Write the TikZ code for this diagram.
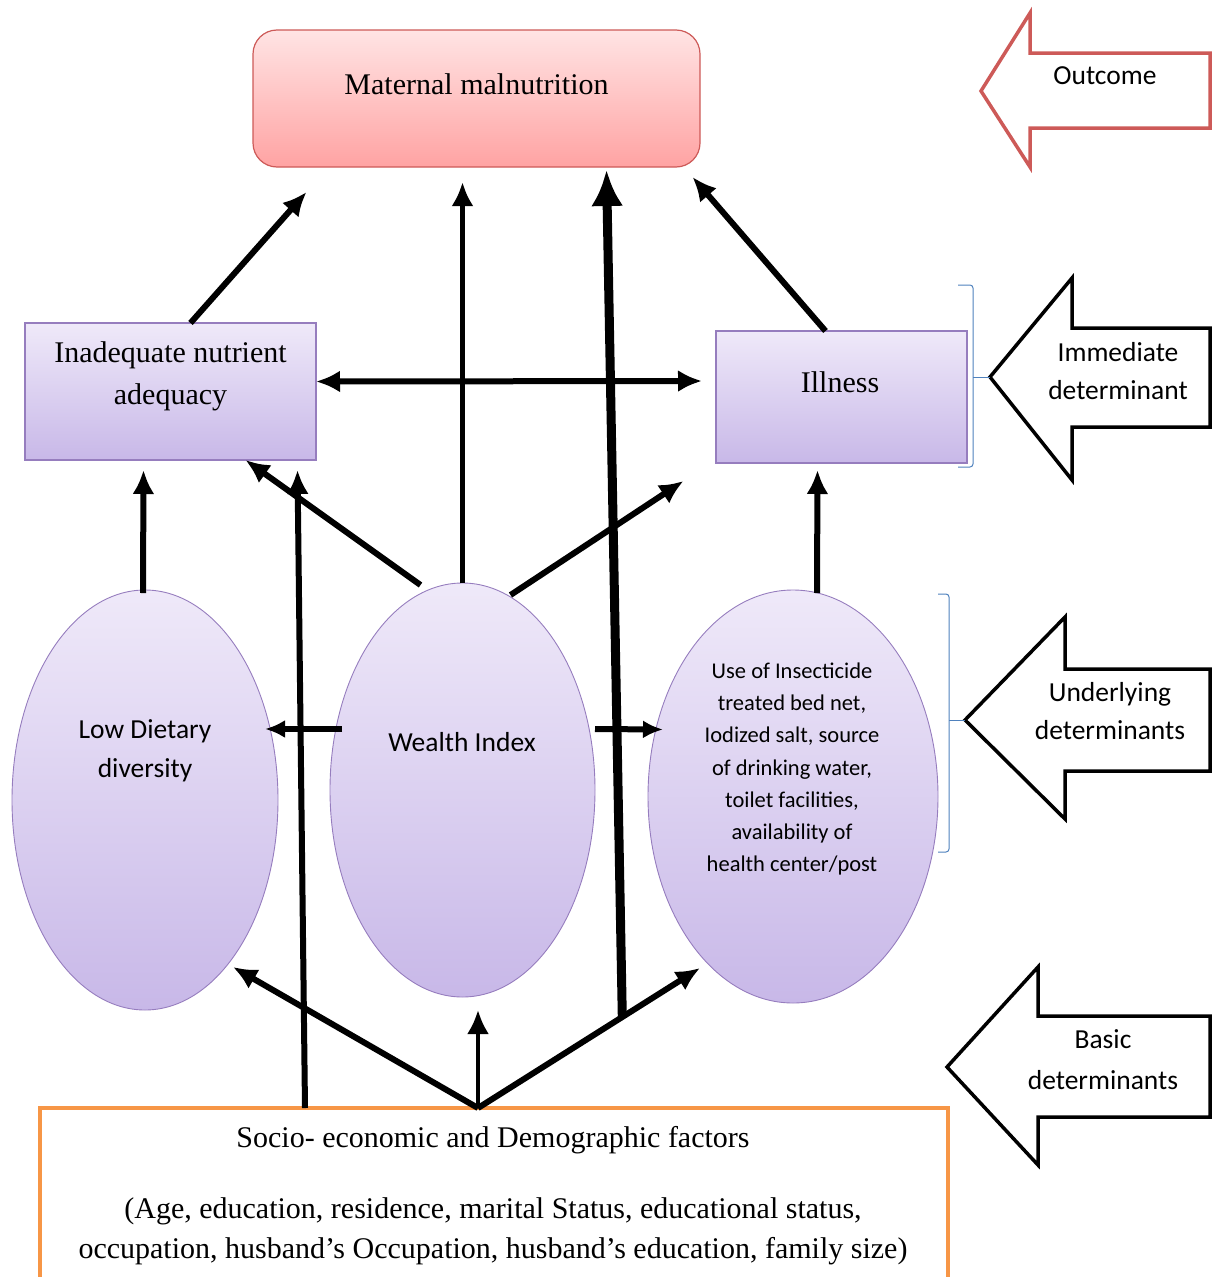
\documentclass[tikz,border=0pt]{standalone}
\usepackage{fontspec}
\setmainfont{Liberation Serif}
\newfontfamily\calibri{Carlito}
\usetikzlibrary{shapes.geometric,arrows.meta,calc}

\definecolor{redline}{RGB}{205,90,88}
\definecolor{pinktop}{RGB}{255,228,228}
\definecolor{pinkbot}{RGB}{255,163,163}
\definecolor{lilatop}{RGB}{239,233,249}
\definecolor{lilabot}{RGB}{200,184,232}
\definecolor{lilaline}{RGB}{150,125,190}
\definecolor{orangeline}{RGB}{247,150,70}
\definecolor{bracketblue}{RGB}{79,129,189}

\begin{document}
\begin{tikzpicture}[x=1pt, y=-1pt, >={Latex[length=24pt,width=22pt]},
    every node/.style={inner sep=0pt, outer sep=0pt},
    outcomebox/.style={draw=redline, line width=1.2pt, rounded corners=24pt,
        top color=pinktop, bottom color=pinkbot},
    detbox/.style={draw=lilaline, line width=1.2pt, top color=lilatop, bottom color=lilabot},
    detellipse/.style={ellipse, draw=lilaline, line width=0.9pt, top color=lilatop, bottom color=lilabot},
    timestext/.style={font=\fontsize{30}{42}\selectfont, align=center},
    calibritext/.style={font=\calibri\fontsize{27.5}{39}\selectfont, align=center},
    arr/.style={->, line width=6pt},
    blockarrow/.style={line width=3.5pt, line join=miter},
    bracket/.style={draw=bracketblue, line width=1pt, rounded corners=3pt}
  ]
  \useasboundingbox (0,0) rectangle (1212,1277);

  % outcome
  \node[outcomebox, minimum width=447pt, minimum height=137pt] (mm) at (476.5,98.5) {};
  \node[timestext] (mm-t) at (476.5,84) {Maternal malnutrition};

  % immediate determinants
  \node[detbox, minimum width=291pt, minimum height=137pt] (inad) at (170.5,391.5) {};
  \node[timestext] (inad-t) at (170.5,376) {Inadequate nutrient\\adequacy};
  \node[detbox, minimum width=251pt, minimum height=132pt] (ill) at (841.5,397) {};
  \node[timestext] (ill-t) at (840,382) {Illness};

  % underlying determinants
  \node[detellipse, minimum width=266pt, minimum height=420pt] (ldd) at (145,800) {};
  \node[calibritext] (ldd-t) at (145,751) {Low Dietary\\diversity};
  \node[detellipse, minimum width=265pt, minimum height=414pt] (wi) at (462.5,790) {};
  \node[calibritext] (wi-t) at (462,742) {Wealth Index};
  \node[detellipse, minimum width=290pt, minimum height=413pt] (ins) at (793,796.5) {};
  \node[calibritext, font=\calibri\fontsize{22.5}{32.3}\selectfont] (ins-t) at (792,769)
    {Use of Insecticide\\treated bed net,\\Iodized salt, source\\of drinking water,\\toilet facilities,\\availability of\\health center/post};

  % basic determinants
  \node[draw=orangeline, line width=4pt, fill=white, minimum width=908pt, minimum height=200pt] (socio) at (494,1208) {};
  \node[timestext] (socio-t) at (493,1140) {Socio- economic and Demographic factors};
  \node[timestext, font=\fontsize{30}{40}\selectfont] (socio-d) at (493,1231)
    {(Age, education, residence, marital Status, educational status,\\occupation, husband’s Occupation, husband’s education, family size)};

  % arrows
  \coordinate (hub) at ($(socio.north)+(-16,0)$);
  \coordinate (ins-in) at ($(ins.south)+(-93,-35)$);
  \coordinate (split) at ($(hub)!0.65!(ins-in)$);

  \draw[arr] ($(inad.north)+(20,0)$) -- ($(mm.south)+(-170,25)$);
  \draw[arr, line width=5pt] (wi.north) -- ($(mm.south)+(-14,15)$);
  \draw[arr, line width=9pt, >={Latex[length=36pt,width=32pt]}] (split) -- ($(mm.south)+(130,3)$);
  \draw[arr] ($(ill.north)+(-16,0)$) -- ($(mm.south)+(216,10)$);
  \draw[<->, line width=6pt] ($(inad.east)+(0,-10)$) -- ($(ill.west)+(-14,-16)$);

  \draw[arr] ($(ldd.north)+(-2,3)$) -- ($(inad.south)+(-27,10)$);
  \draw[arr] ($(wi.north)+(-42,2)$) -- ($(inad.south)+(75,0)$);
  \draw[arr] ($(wi.north)+(48,12)$) -- ($(ill.south)+(-158,18)$);
  \draw[arr] ($(ins.north)+(24,3)$) -- ($(ill.south)+(-24,7)$);
  \draw[arr] ($(socio.north)+(-189,0)$) -- ($(inad.south)+(127,10)$);

  \draw[arr, >={Latex[length=20pt,width=18pt]}] ($(wi.west)+(12,-61)$) -- ($(ldd.east)+(-13,-71)$);
  \draw[arr, >={Latex[length=20pt,width=18pt]}] ($(wi.east)+(0,-61)$) -- ($(ins.west)+(15,-67)$);

  \draw[arr] (hub) -- ($(ldd.south)+(88,-43)$);
  \draw[arr, line width=4pt] (hub) -- ($(wi.south)+(15.5,13)$);
  \draw[arr] (hub) -- (ins-in);

  % level arrows on the right
  \draw[blockarrow, draw=redline] (1210,53) -- (1030,53) -- (1030,13) -- (981,91)
    -- (1030,167) -- (1030,128) -- (1210,128) -- cycle;
  \node[calibritext] (outcome-t) at (1105,76) {Outcome};

  \draw[blockarrow] (1210,328) -- (1072,328) -- (1072,278) -- (990,377)
    -- (1072,480) -- (1072,427) -- (1210,427) -- cycle;
  \node[calibritext, font=\calibri\fontsize{27.5}{38}\selectfont] (immediate-t) at (1118,371) {Immediate\\determinant};

  \draw[blockarrow] (1210,669) -- (1065,669) -- (1065,617) -- (965,720)
    -- (1065,819) -- (1065,771) -- (1210,771) -- cycle;
  \node[calibritext, font=\calibri\fontsize{27.5}{38}\selectfont] (underlying-t) at (1110,711) {Underlying\\determinants};

  \draw[blockarrow] (1210,1016) -- (1038,1016) -- (1038,967) -- (947,1067)
    -- (1038,1165) -- (1038,1117) -- (1210,1117) -- cycle;
  \node[calibritext, font=\calibri\fontsize{27.5}{41}\selectfont] (basic-t) at (1103,1060) {Basic\\determinants};

  % brackets
  \draw[bracket] (958,285) -- (973,285) -- (973,467) -- (958,467);
  \draw[bracket] (973,377) -- (990,377);
  \draw[bracket] (938,594) -- (949,594) -- (949,852) -- (938,852);
  \draw[bracket] (949,720) -- (965,720);
\end{tikzpicture}
\end{document}
